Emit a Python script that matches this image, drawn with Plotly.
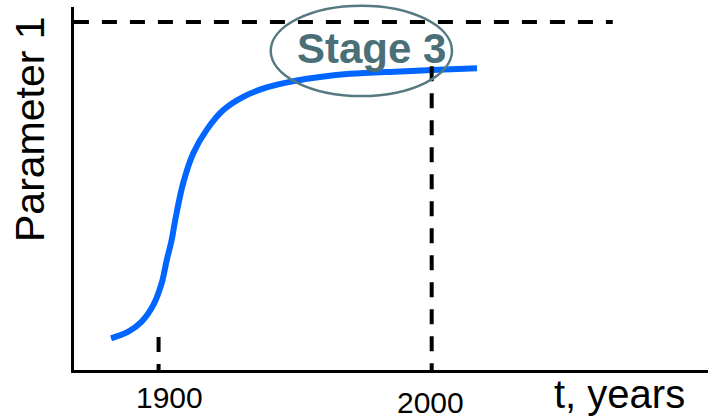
import plotly.graph_objects as go

# ---- data ----
years = [1882.6, 1888.9, 1893.8, 1898.1, 1901.1, 1903.0, 1904.8, 1906.1, 1909.0,
         1912.7, 1917.6, 1923.7, 1931.0, 1939.6, 1950.6, 1959.1, 1970.1, 1988.4, 2000.1, 2016.6]
param1 = [9.1, 11.0, 13.9, 18.7, 24.9, 31.6, 37.4, 43.1, 53.7,
          62.3, 69.0, 74.7, 78.5, 81.2, 83.2, 84.2, 85.1, 85.8, 86.2, 86.7]
limit_level = 100
limit_span = [1869.0, 2066.3]
marker_years = [1900, 2000]
marker_tops = [9.5, 87.3]
marker_labels = ["1900", "2000"]
stage_label = "Stage 3"
x_title = "t, years"
y_title = "Parameter 1"

W, H = 708, 418
L, B, T = 74, 48, 7
PW, PH = W - L, H - B - T
xr = [1869.03, 2101.17]
yr = [0, 104.31]

def px2paper_x(px):
    return (px - L) / PW

def px2paper_y(py):
    return (H - B - py) / PH

fig = go.Figure()

# S-curve
fig.add_trace(go.Scatter(x=years, y=param1, mode="lines",
                         line=dict(color="#0066FF", width=6, shape="spline", smoothing=1.0),
                         hoverinfo="skip", showlegend=False))

# limit dashed line
fig.add_trace(go.Scatter(x=limit_span, y=[limit_level, limit_level], mode="lines",
                         line=dict(color="black", width=4, dash="15px,13px"),
                         showlegend=False, hoverinfo="skip"))

# vertical dashed markers (drawn top -> bottom so the dash pattern starts at the top)
for yr_, top in zip(marker_years, marker_tops):
    fig.add_trace(go.Scatter(x=[yr_, yr_], y=[top, 0], mode="lines",
                             line=dict(color="black", width=4, dash="15px,12px"),
                             showlegend=False, hoverinfo="skip"))

# ellipse around Stage 3
fig.add_shape(type="circle", xref="paper", yref="paper",
              x0=px2paper_x(270.7), x1=px2paper_x(452), y0=px2paper_y(96), y1=px2paper_y(5.7),
              line=dict(color="#557980", width=2.5), fillcolor="rgba(0,0,0,0)")

annotations = [
    dict(text="<b>" + stage_label + "</b>", x=px2paper_x(371.7), y=px2paper_y(49),
         font=dict(family="Liberation Sans", size=42, color="#4A6F77")),
    dict(text=marker_labels[0], x=px2paper_x(169), y=px2paper_y(397),
         font=dict(family="Liberation Sans", size=30, color="black")),
    dict(text=marker_labels[1], x=px2paper_x(430.3), y=px2paper_y(402),
         font=dict(family="Liberation Sans", size=30, color="black")),
    dict(text=x_title, x=px2paper_x(619), y=px2paper_y(394),
         font=dict(family="Liberation Sans", size=40, color="black")),
    dict(text=y_title, x=px2paper_x(30), y=px2paper_y(129), textangle=-90,
         font=dict(family="Liberation Sans", size=41, color="black")),
]
for a in annotations:
    a.update(xref="paper", yref="paper", showarrow=False, xanchor="center", yanchor="middle")

fig.update_layout(
    width=W, height=H,
    margin=dict(l=L, r=0, t=T, b=B),
    paper_bgcolor="white", plot_bgcolor="white",
    annotations=annotations,
    xaxis=dict(range=xr, showgrid=False, zeroline=False, showticklabels=False, ticks="",
               showline=True, linecolor="black", linewidth=3, fixedrange=True),
    yaxis=dict(range=yr, showgrid=False, zeroline=False, showticklabels=False, ticks="",
               showline=True, linecolor="black", linewidth=3, fixedrange=True),
    showlegend=False,
)

fig.write_html("out.html", config={"displayModeBar": False},
               post_script="document.body.style.margin='0px';document.body.style.overflow='hidden';")
